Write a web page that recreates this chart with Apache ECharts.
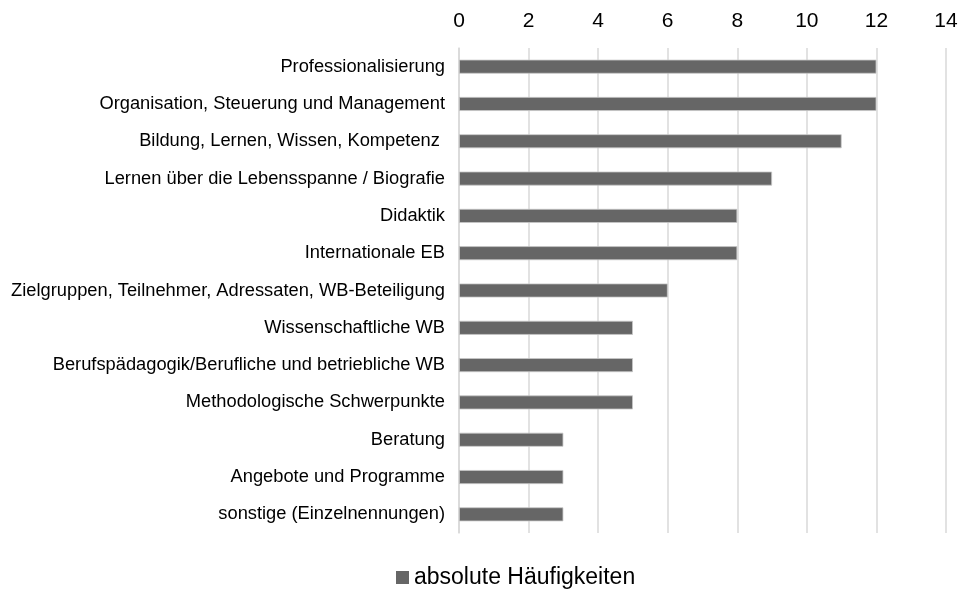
<!DOCTYPE html>
<html>
<head>
<meta charset="utf-8">
<script src="https://cdn.jsdelivr.net/npm/echarts@6/dist/echarts.min.js"></script>
<style>
  html, body { margin: 0; padding: 0; background: #fff; }
  #chart { width: 969px; height: 590px; }
</style>
</head>
<body>
<div id="chart"></div>
<script>
// categories top to bottom
var categories = [
  'Professionalisierung',
  'Organisation, Steuerung und Management',
  'Bildung, Lernen, Wissen, Kompetenz ',
  'Lernen über die Lebensspanne / Biografie',
  'Didaktik',
  'Internationale EB',
  'Zielgruppen, Teilnehmer, Adressaten, WB-Beteiligung',
  'Wissenschaftliche WB',
  'Berufspädagogik/Berufliche und betriebliche WB',
  'Methodologische Schwerpunkte',
  'Beratung',
  'Angebote und Programme',
  'sonstige (Einzelnennungen)'
];
var counts = [12, 12, 11, 9, 8, 8, 6, 5, 5, 5, 3, 3, 3];
var seriesName = 'absolute Häufigkeiten';

var chart = echarts.init(document.getElementById('chart'));
chart.setOption({
  animation: false,
  textStyle: { fontFamily: 'Liberation Sans, Arial, sans-serif' },
  grid: { left: 459, right: 23, top: 48, bottom: 57, containLabel: false },
  legend: {
    top: 561,
    left: 391,
    data: [seriesName],
    icon: 'rect',
    itemWidth: 13,
    itemHeight: 13,
    itemGap: 3,
    itemStyle: { borderWidth: 0 },
    textStyle: { fontSize: 23, color: '#000', fontFamily: 'Liberation Sans, Arial, sans-serif' }
  },
  xAxis: {
    type: 'value',
    position: 'top',
    min: 0,
    max: 14,
    interval: 2,
    axisLine: { show: false },
    axisTick: { show: false },
    axisLabel: { fontSize: 21, color: '#000', margin: 16 },
    splitLine: { lineStyle: { color: '#d9d9d9', width: 1.5 } }
  },
  yAxis: {
    type: 'category',
    inverse: true,
    data: categories,
    axisLine: { lineStyle: { color: '#d9d9d9', width: 1.5 } },
    axisTick: { show: false },
    axisLabel: { fontSize: 18.3, color: '#000', margin: 14 }
  },
  series: [{
    name: seriesName,
    type: 'bar',
    data: counts,
    barWidth: 14,
    itemStyle: { color: '#666666', borderColor: '#c8c8c8', borderWidth: 0.8 }
  }]
});
</script>
</body>
</html>
